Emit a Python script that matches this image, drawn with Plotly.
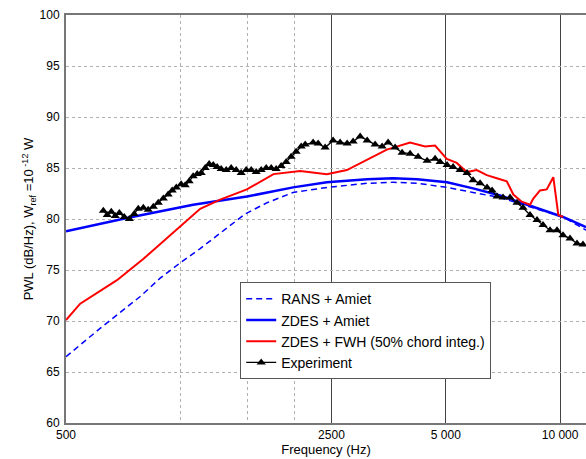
import plotly.graph_objects as go

# Frequencies (Hz) and levels (dB/Hz)
rans_f = [500, 616, 784, 885, 999, 1128, 1482, 1693, 1982, 2436, 3104, 3633,
          4202, 5039, 5899, 6948, 8486, 10177, 11699]
rans_db = [66.5, 69.3, 72.4, 74.2, 75.7, 77.1, 80.5, 81.6, 82.6, 83.1, 83.5, 83.6,
           83.5, 83.1, 82.6, 82.1, 81.1, 80.2, 78.9]

zdes_f = [500, 724, 1081, 1497, 1982, 2431, 3104, 3633, 4202, 5039, 5899, 6948,
          8486, 10177, 11699]
zdes_db = [78.8, 80.1, 81.4, 82.2, 83.1, 83.6, 83.9, 84.0, 83.9, 83.6, 83.0, 82.3,
           81.2, 80.2, 79.2]

fwh_f = [500, 545, 681, 800, 1128, 1273, 1497, 1759, 2068, 2431, 2745, 3098, 3497,
         4027, 4411, 4686, 5030, 5344, 5678, 6033, 6411, 6811, 7236, 7531, 7924,
         8333, 8501, 8853, 9220, 9596, 9892, 10177]
fwh_db = [70.1, 71.7, 74.0, 76.1, 81.0, 81.9, 82.9, 84.4, 84.7, 84.4, 84.8, 85.8, 86.8,
          87.5, 87.1, 87.2, 85.9, 85.5, 84.6, 84.8, 84.3, 84.0, 83.7, 82.4, 81.7,
          81.4, 82.0, 82.8, 82.9, 84.1, 80.4, 80.2]

exp_f = [627, 642, 658, 674, 691, 712, 734, 756, 775, 799, 823, 849, 875, 902, 929,
         952, 976, 1005, 1030, 1055, 1081, 1108, 1135, 1163, 1191, 1221, 1250, 1281,
         1321, 1361, 1403, 1446, 1491, 1537, 1584, 1633, 1683, 1735, 1788, 1843, 1900,
         1958, 2018, 2081, 2132, 2237, 2306, 2406, 2525, 2635, 2750, 2851, 2975, 3104,
         3258, 3399, 3525, 3677, 3837, 4027, 4227, 4465, 4686, 4830, 5039, 5226, 5452,
         5688, 5899, 6155, 6422, 6620, 6823, 7075, 7382, 7702, 7987, 8333, 8694, 9016,
         9407, 9815, 10177, 10618, 11078, 11488]
exp_db = [80.8, 80.4, 80.7, 80.3, 80.6, 80.2, 80.0, 80.5, 81.0, 81.1, 80.9, 81.2, 81.6,
          82.0, 82.4, 82.8, 83.1, 83.4, 83.3, 83.7, 84.2, 84.4, 84.5, 85.0, 85.4, 85.3,
          85.1, 84.9, 84.8, 85.0, 84.8, 84.5, 84.8, 84.8, 84.6, 84.8, 85.0, 85.0, 84.9,
          85.2, 85.6, 86.1, 86.6, 87.1, 87.3, 87.5, 87.4, 87.0, 87.7, 87.5, 87.4, 87.6,
          88.1, 87.7, 87.3, 87.1, 87.5, 87.0, 86.5, 86.4, 86.1, 85.7, 85.9, 85.6, 85.3,
          85.1, 84.8, 84.5, 83.8, 83.5, 83.1, 82.8, 82.2, 82.1, 82.1, 81.6, 81.1, 80.4,
          79.9, 79.4, 78.9, 78.9, 78.4, 78.1, 77.6, 77.5]

x_major = [500, 2500, 5000, 10000]
x_major_text = ["500", "2500", "5 000", "10 000"]
x_minor = [1000, 1500, 2000]
y_ticks = [60, 65, 70, 75, 80, 85, 90, 95, 100]

FONT = "Liberation Sans, Arial, Helvetica, sans-serif"

fig = go.Figure()
fig.add_trace(go.Scatter(x=rans_f, y=rans_db, mode="lines", name="RANS + Amiet",
                         line=dict(color="#0000ff", width=1.5, dash="6px,4px")))
fig.add_trace(go.Scatter(x=zdes_f, y=zdes_db, mode="lines", name="ZDES + Amiet",
                         line=dict(color="#0000ff", width=2.5)))
fig.add_trace(go.Scatter(x=fwh_f, y=fwh_db, mode="lines",
                         name="ZDES + FWH (50% chord integ.)",
                         line=dict(color="#ff0000", width=2)))
fig.add_trace(go.Scatter(x=exp_f, y=exp_db, mode="lines+markers", name="Experiment",
                         line=dict(color="black", width=1.3),
                         marker=dict(symbol="triangle-up", size=8, color="black")))

fig.update_layout(
    width=586, height=459,
    margin=dict(l=66, r=0, t=15, b=36),
    paper_bgcolor="white", plot_bgcolor="white",
    font=dict(family=FONT, size=12, color="black"),
    legend=dict(x=0.335, y=0.345, xanchor="left", yanchor="top",
                bgcolor="white", bordercolor="#555555", borderwidth=1,
                font=dict(size=14), tracegroupgap=0, itemwidth=30),
    xaxis=dict(
        type="log", range=[2.69897, 4.06816],
        tickvals=x_major, ticktext=x_major_text, ticks="",
        showgrid=True, gridcolor="#444444", gridwidth=1,
        minor=dict(tickvals=x_minor, showgrid=True, gridcolor="#b0b0b0",
                   griddash="dot", gridwidth=1, ticks=""),
        showline=True, linecolor="#777777", linewidth=2, mirror=True,
        title=dict(text="Frequency (Hz)", font=dict(size=13), standoff=1),
        tickfont=dict(size=12), zeroline=False,
    ),
    yaxis=dict(
        range=[60, 100], tickvals=y_ticks, ticks="",
        showgrid=True, gridcolor="#b0b0b0", griddash="dot", gridwidth=1,
        showline=True, linecolor="#777777", linewidth=2, mirror=False,
        title=dict(text="PWL (dB/Hz), W<sub>ref</sub> =10<sup> -12</sup> W",
                   font=dict(size=13), standoff=3),
        tickfont=dict(size=12), zeroline=False, ticklabelstandoff=2,
    ),
)

fig.write_html("out.html")
